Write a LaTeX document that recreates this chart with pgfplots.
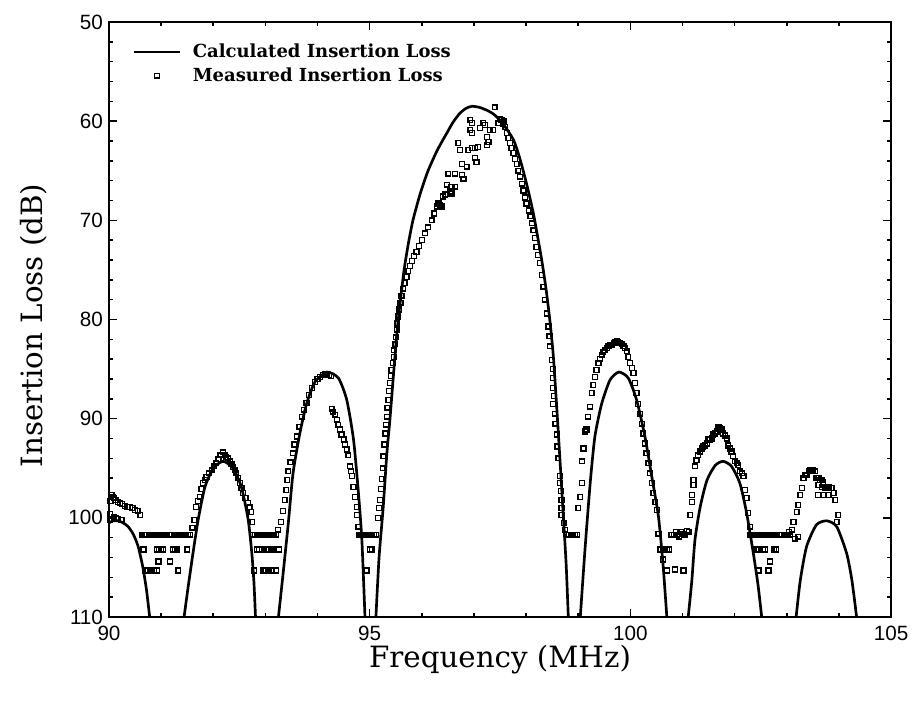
\documentclass[border=0pt]{standalone}
\usepackage{fontspec}
\setmainfont{DejaVu Serif}
\newfontfamily\tickfont{Liberation Sans}
\usepackage{pgfplots}
\usepackage{pgfplotstable}
\pgfplotsset{compat=1.18}

% measured insertion loss (MHz, dB)
\pgfplotstableread{
f L
90.02 99.6
90.03 98.3
90.05 97.7
90.08 97.9
90.10 98.0
90.13 98.2
90.17 98.4
90.21 98.5
90.25 98.6
90.30 98.8
90.35 98.9
90.40 98.9
90.45 99.0
90.50 99.2
90.55 99.3
90.60 99.7
90.02 100.2
90.06 100.1
90.10 99.9
90.14 100.0
90.18 100.1
90.24 100.2
90.64 101.7
90.68 101.7
90.72 101.7
90.76 101.7
90.80 101.7
90.84 101.7
90.88 101.7
90.92 101.7
90.96 101.7
91.00 101.7
91.04 101.7
91.08 101.7
91.12 101.7
91.16 101.7
91.20 101.7
91.24 101.7
91.28 101.7
91.32 101.7
91.36 101.7
91.40 101.7
91.44 101.7
91.48 101.7
91.52 101.7
91.56 101.7
90.66 103.2
90.92 103.2
90.96 103.2
91.00 103.2
91.04 103.2
91.22 103.2
91.26 103.2
91.30 103.2
91.50 103.2
90.95 104.4
91.17 104.4
90.70 105.3
90.74 105.3
90.80 105.3
90.86 105.3
90.92 105.3
91.33 105.3
91.60 101.0
91.64 100.2
91.67 98.9
91.71 98.3
91.74 97.9
91.77 97.1
91.80 96.5
91.84 96.2
91.87 95.9
91.92 95.5
91.97 95.2
92.02 94.8
92.06 94.5
92.10 94.1
92.14 93.7
92.19 93.4
92.22 93.7
92.25 93.9
92.28 94.0
92.32 94.3
92.35 94.6
92.38 94.9
92.41 95.2
92.44 95.5
92.48 96.0
92.51 96.5
92.54 97.0
92.57 97.5
92.62 98.0
92.67 98.5
92.70 98.9
92.73 99.4
92.75 100.4
92.76 101.7
92.80 101.7
92.84 101.7
92.88 101.7
92.92 101.7
92.96 101.7
93.00 101.7
93.04 101.7
93.08 101.7
93.12 101.7
93.16 101.7
93.20 101.7
92.84 103.2
92.88 103.2
92.98 103.2
93.02 103.2
93.06 103.2
93.10 103.2
93.14 103.2
93.26 103.2
92.78 105.3
92.96 105.3
93.00 105.3
93.06 105.3
93.12 105.3
93.20 105.3
93.24 101.2
93.30 100.4
93.34 99.3
93.37 98.2
93.40 97.2
93.42 96.2
93.44 95.3
93.48 94.4
93.53 93.5
93.56 92.6
93.60 91.8
93.65 90.8
93.70 89.8
93.74 89.1
93.79 88.4
93.84 87.6
93.89 86.9
93.95 86.3
94.00 86.0
94.05 85.8
94.10 85.6
94.15 85.5
94.18 85.5
94.22 85.6
94.26 85.7
94.27 89.0
94.30 89.3
94.34 89.6
94.37 90.1
94.40 90.6
94.43 91.1
94.46 91.6
94.50 92.1
94.53 92.6
94.56 93.1
94.59 93.7
94.62 94.8
94.64 95.3
94.66 95.8
94.69 96.9
94.72 97.9
94.75 98.9
94.76 99.7
94.78 100.9
94.80 101.7
94.84 101.7
94.88 101.7
94.92 101.7
94.96 101.7
95.00 101.7
95.04 101.7
95.08 101.7
95.12 101.7
95.01 103.2
95.04 103.2
94.94 105.3
95.16 100.0
95.18 99.0
95.20 98.2
95.22 97.1
95.23 96.1
95.25 95.0
95.26 93.8
95.28 92.6
95.30 91.5
95.31 90.6
95.33 89.8
95.34 88.9
95.36 88.1
95.37 87.2
95.39 86.4
95.41 85.7
95.42 85.1
95.44 84.4
95.46 83.8
95.47 83.1
95.49 82.5
95.50 81.8
95.52 81.0
95.53 80.4
95.55 79.7
95.57 79.0
95.59 78.3
95.61 77.6
95.64 76.9
95.67 76.3
95.71 75.7
95.74 75.1
95.77 74.6
95.81 74.1
95.85 73.6
95.90 73.2
95.95 72.6
96.00 72.0
96.06 71.3
96.12 70.7
96.19 70.0
96.24 69.3
96.29 68.6
96.32 68.3
96.35 68.5
96.38 68.6
96.41 67.6
96.45 67.4
96.54 67.1
96.57 67.3
96.48 66.4
96.57 66.6
96.64 66.6
96.51 65.3
96.64 65.3
96.77 65.4
96.80 65.8
96.77 64.3
96.86 64.6
96.70 62.2
96.73 62.9
96.89 62.9
96.96 62.7
97.02 62.7
97.08 62.6
97.02 63.7
97.05 64.1
96.93 59.9
96.96 60.2
96.93 60.9
96.96 61.2
97.12 60.7
97.18 60.2
97.21 60.4
97.31 60.9
97.37 60.9
97.25 61.6
97.28 62.1
97.25 62.4
97.40 58.6
97.47 60.2
97.50 59.8
97.53 59.9
97.55 60.3
97.57 60.0
97.60 60.6
97.63 61.2
97.66 61.7
97.69 62.2
97.72 62.7
97.76 63.2
97.79 63.8
97.82 64.3
97.85 65.0
97.88 65.6
97.92 66.3
97.95 67.0
97.98 67.7
98.01 68.3
98.05 69.0
98.08 69.6
98.11 70.3
98.14 71.0
98.17 71.8
98.20 72.7
98.23 73.5
98.27 74.3
98.30 75.5
98.33 76.7
98.36 78.0
98.40 79.4
98.43 80.7
98.45 81.7
98.46 82.7
98.49 84.1
98.51 85.0
98.52 85.9
98.52 86.9
98.53 87.7
98.52 88.5
98.55 89.5
98.56 90.5
98.59 91.6
98.60 92.8
98.62 94.0
98.65 95.8
98.65 96.5
98.67 97.3
98.68 98.2
98.68 99.0
98.68 99.7
98.72 100.5
98.75 101.2
98.78 101.7
98.82 101.7
98.86 101.7
98.90 101.7
98.94 101.7
98.98 101.7
99.00 99.0
99.04 97.9
99.07 96.5
99.07 94.3
99.10 93.0
99.13 91.3
99.16 91.1
99.19 89.8
99.23 88.8
99.26 87.4
99.29 86.6
99.32 85.8
99.35 85.1
99.39 84.4
99.42 84.0
99.45 83.6
99.48 83.3
99.51 83.1
99.55 82.9
99.58 82.7
99.61 82.6
99.64 82.6
99.68 82.4
99.71 82.3
99.74 82.2
99.77 82.3
99.80 82.4
99.84 82.5
99.87 82.7
99.90 82.9
99.93 83.2
99.96 83.8
99.99 84.4
100.03 84.9
100.06 85.4
100.09 86.4
100.12 87.4
100.15 88.5
100.19 89.5
100.22 90.5
100.25 91.5
100.28 92.5
100.31 93.5
100.35 94.5
100.38 95.5
100.41 96.5
100.44 97.5
100.48 98.4
100.51 99.2
100.54 101.6
100.58 103.2
100.62 103.2
100.66 103.2
100.70 103.2
100.74 103.2
100.63 104.2
100.70 105.3
100.86 105.2
101.02 105.3
100.79 101.7
100.83 101.7
100.87 101.4
100.90 101.7
100.94 101.9
100.98 101.4
101.02 101.6
101.05 101.7
101.09 101.3
101.12 101.4
101.15 99.7
101.18 98.4
101.18 97.7
101.21 96.7
101.21 96.2
101.24 94.8
101.27 94.2
101.30 93.7
101.34 93.3
101.37 93.0
101.40 92.8
101.43 92.7
101.47 92.5
101.50 92.1
101.53 92.1
101.56 92.0
101.59 91.6
101.63 91.5
101.66 91.3
101.69 90.8
101.72 91.0
101.75 91.1
101.78 91.5
101.82 91.7
101.85 92.0
101.88 92.7
101.91 93.0
101.94 93.3
101.97 93.8
102.01 94.3
102.04 94.5
102.07 94.7
102.10 95.3
102.14 95.5
102.17 95.8
102.20 97.2
102.23 98.0
102.26 99.5
102.30 100.9
102.30 101.7
102.34 101.7
102.38 101.7
102.42 101.7
102.46 101.7
102.50 101.7
102.54 101.7
102.58 101.7
102.62 101.7
102.66 101.7
102.70 101.7
102.74 101.7
102.78 101.7
102.82 101.7
102.86 101.7
102.90 101.7
102.94 101.7
102.98 101.7
103.02 101.7
103.06 101.7
103.10 101.2
103.16 102.1
103.04 101.4
103.22 101.9
102.42 103.2
102.46 103.2
102.55 103.2
102.58 103.2
102.76 103.2
102.80 103.2
102.68 104.4
102.46 105.3
102.65 105.3
103.13 100.4
103.19 99.4
103.22 98.7
103.26 97.7
103.29 97.0
103.32 96.0
103.35 95.7
103.38 95.7
103.42 95.3
103.45 95.2
103.48 95.2
103.51 95.2
103.54 95.3
103.57 96.0
103.61 96.0
103.64 96.2
103.67 96.2
103.70 96.4
103.61 96.7
103.67 96.9
103.74 97.0
103.80 96.9
103.60 97.7
103.70 97.7
103.80 97.7
103.86 97.0
103.90 97.5
103.93 98.2
103.99 99.7
103.96 100.4
}\measured

\begin{document}
\begin{tikzpicture}
\useasboundingbox (-81.75pt,-68.25pt) rectangle (602.25pt,462.75pt);
\begin{axis}[
    at={(0pt,0pt)}, anchor=south west,
    width=586.5pt, height=446.25pt, scale only axis,
    xmin=90, xmax=105, ymin=50, ymax=110,
    y dir=reverse,
    xtick={90,95,100,105}, minor x tick num=4,
    ytick={50,60,70,80,90,100,110}, minor y tick num=4,
    tick align=inside,
    major tick length=6pt, minor tick length=3pt,
    every tick/.style={line width=1.2pt, black},
    axis line style={line width=1.6pt},
    /pgf/number format/assume math mode=true,
    ticklabel style={font=\tickfont\fontsize{15.5}{17}\selectfont},
    xticklabel style={yshift=-3pt},
    yticklabel style={xshift=-1pt},
    xlabel={Frequency (MHz)},
    ylabel={Insertion Loss (dB)},
    every axis x label/.style={at={(axis description cs:0.5,-0.072)}, anchor=center,
        font=\fontsize{22}{26}\selectfont},
    every axis y label/.style={at={(axis description cs:-0.097,0.49)}, anchor=center, rotate=90,
        font=\fontsize{22}{26}\selectfont},
    legend style={draw=none, fill=none, at={(axis description cs:0.025,0.972)}, anchor=north west,
        font=\bfseries\fontsize{13.5}{15}\selectfont, row sep=2pt},
    legend cell align=left,
    legend image code/.code={\draw[mark repeat=2,mark phase=2,#1] plot coordinates {(0pt,0pt) (17pt,0pt) (34pt,0pt)}; \path (41pt,0pt);},
    calc/.style={black, line width=2pt, smooth, tension=0.4},
]
\addplot[calc] coordinates {(90,100.5) (90.08,100.3) (90.17,100.3) (90.27,100.5) (90.37,100.9) (90.47,101.7) (90.56,102.9) (90.65,105.0) (90.72,107.3) (90.78,110)};
\addlegendentry{Calculated Insertion Loss}
\addplot[calc, forget plot] coordinates {(91.44,110) (91.52,106.9) (91.61,103.6) (91.71,100.2) (91.84,96.9) (92.0,95.0) (92.19,94.3) (92.38,95.0) (92.54,96.9) (92.67,100.2) (92.74,103.6) (92.78,106.5) (92.81,110)};
\addplot[calc, forget plot] coordinates {(93.25,110) (93.34,105.6) (93.44,100.5) (93.53,95.5) (93.66,91.5) (93.79,88.5) (93.95,86.3) (94.18,85.3) (94.40,85.9) (94.56,88.1) (94.69,92.1) (94.78,97.2) (94.85,102.2) (94.91,110)};
\addplot[calc, forget plot] coordinates {(95.12,110) (95.18,104) (95.26,98.9) (95.33,93.5) (95.39,90.0) (95.45,86.0) (95.52,81.5) (95.58,78.5) (95.66,75.0) (95.74,72.4) (95.83,70.0) (95.97,67.3) (96.12,65.0) (96.30,62.9) (96.48,61.2) (96.60,60.1) (96.73,59.2) (96.85,58.7) (96.96,58.5) (97.1,58.6) (97.25,58.9) (97.38,59.3) (97.5,59.9) (97.63,60.8) (97.76,61.9) (97.86,63.4) (97.95,65.1) (98.05,67.2) (98.14,69.3) (98.22,71.6) (98.30,74.0) (98.38,76.8) (98.45,79.8) (98.52,83.5) (98.59,89.0) (98.66,95) (98.72,100.3) (98.77,104.8) (98.81,110)};
\addplot[calc, forget plot] coordinates {(99.04,110) (99.13,103.2) (99.23,96.5) (99.32,91.8) (99.45,88.5) (99.61,86.1) (99.78,85.3) (99.96,85.9) (100.12,88.1) (100.28,91.8) (100.41,95.8) (100.54,99.9) (100.63,104.9) (100.70,110)};
\addplot[calc, forget plot] coordinates {(101.11,110) (101.18,106.3) (101.24,102.2) (101.34,98.9) (101.47,96.2) (101.63,94.7) (101.78,94.3) (101.94,94.8) (102.10,96.5) (102.23,99.5) (102.36,103.6) (102.45,106.8) (102.52,110)};
\addplot[calc, forget plot] coordinates {(103.18,110) (103.26,106.3) (103.38,102.9) (103.57,100.7) (103.77,100.3) (103.96,100.9) (104.15,103.6) (104.25,106.3) (104.34,110)};
\addplot[only marks, mark=square, mark size=1.8pt, mark options={line width=1.05pt, black}] table[x=f, y=L] {\measured};
\addlegendentry{Measured Insertion Loss}
\end{axis}
\end{tikzpicture}
\end{document}
